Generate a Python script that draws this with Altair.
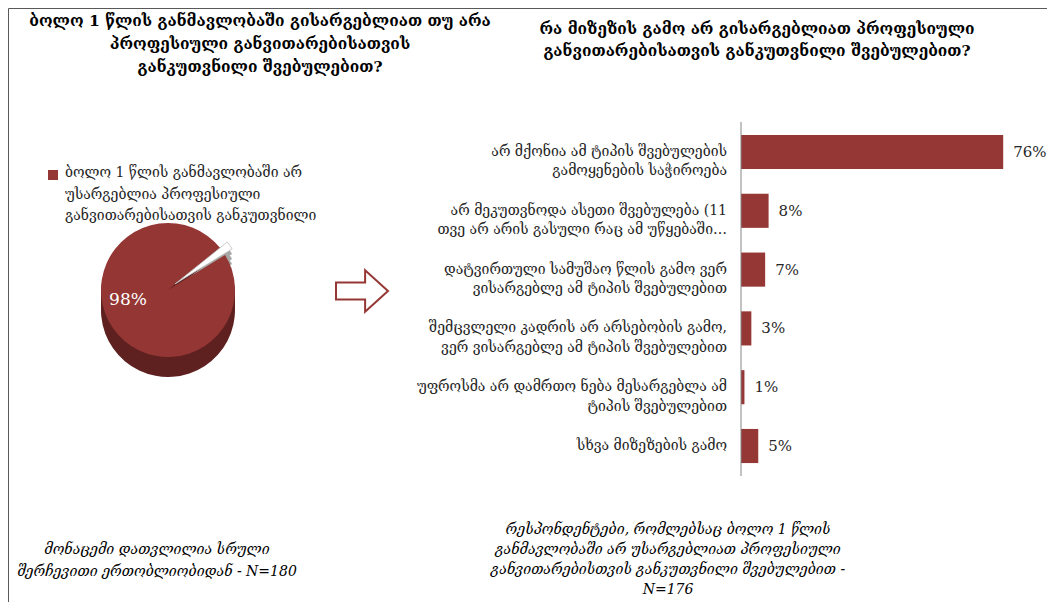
import math
import altair as alt
import pandas as pd

# ---------------- data ----------------
left_title = "ბოლო 1 წლის განმავლობაში გისარგებლიათ თუ არა\nპროფესიული განვითარებისათვის\nგანკუთვნილი შვებულებით?"
right_title = "რა მიზეზის გამო არ გისარგებლიათ პროფესიული\nგანვითარებისათვის განკუთვნილი შვებულებით?"

pie_labels = [
    "ბოლო 1 წლის განმავლობაში არ\nუსარგებლია პროფესიული\nგანვითარებისათვის განკუთვნილი",
    "ბოლო 1 წლის განმავლობაში უსარგებლია",
]
pie_share = [0.98, 0.02]

categories = [
    "არ მქონია ამ ტიპის  შვებულების\nგამოყენების საჭიროება",
    "არ მეკუთვნოდა ასეთი შვებულება (11\nთვე არ არის გასული რაც ამ უწყებაში…",
    "დატვირთული სამუშაო წლის გამო ვერ\nვისარგებლე ამ ტიპის შვებულებით",
    "შემცვლელი კადრის არ არსებობის გამო,\nვერ ვისარგებლე ამ ტიპის შვებულებით",
    "უფროსმა არ დამრთო ნება მესარგებლა ამ\nტიპის შვებულებით",
    "სხვა მიზეზების გამო",
]
reason_share = [0.76, 0.08, 0.07, 0.03, 0.01, 0.05]

left_note = "მონაცემი დათვლილია სრული\nშერჩევითი ერთობლიობიდან -  N=180"
right_note = ("რესპონდენტები, რომლებსაც ბოლო 1 წლის\nგანმავლობაში არ უსარგებლიათ პროფესიული\n"
              "განვითარებისთვის განკუთვნილი  შვებულებით -\nN=176")

# ---------------- styling ----------------
W, H = 1039, 594
FONT = "DejaVu Serif"
RED = "#953735"
TXT = "#262626"

pie_df = pd.DataFrame({"label": pie_labels, "share": pie_share, "idx": [0, 1]})
bar_df = pd.DataFrame({"cat": categories, "share": reason_share})
one = pd.DataFrame({"k": [0]})

# ---------------- pie ----------------
CX, CY, R = 160, 282, 67
rot = 1.02
theta_scale = alt.Scale(domain=[0, 1], range=[rot, rot + 2 * math.pi])

pie_base = (
    alt.Chart(pie_df)
    .transform_window(end="sum(share)", sort=[alt.SortField("idx")], frame=[None, 0])
    .transform_calculate(start="datum.end - datum.share")
)

def pie_layer(row, dy, color, stroke=None, xo=0, yo=0):
    kw = dict(outerRadius=R, xOffset=xo, yOffset=yo, color=color)
    if stroke:
        kw.update(stroke=stroke, strokeWidth=0.8)
    return (
        pie_base.transform_filter(f"datum.idx == {row}")
        .mark_arc(**kw)
        .encode(
            theta=alt.Theta("start:Q", scale=theta_scale, stack=None),
            theta2="end:Q",
            x=alt.value(CX),
            y=alt.value(CY + dy),
        )
    )

pie_layers = []
for d in [20, 15, 10, 5]:
    pie_layers.append(pie_layer(0, d, "#5e2120"))
    pie_layers.append(pie_layer(1, d, "#a6a6a6", xo=7, yo=-6))
pie_layers.append(pie_layer(0, 0, "#943634"))
pie_layers.append(pie_layer(1, 0, "#ffffff", stroke="#bfbfbf", xo=7, yo=-6))

pie_text = (
    pie_base.transform_filter("datum.idx == 0")
    .mark_text(font=FONT, fontSize=17, color="white")
    .encode(text=alt.Text("share:Q", format=".0%"), x=alt.value(120), y=alt.value(292))
)

legend_sq = (
    alt.Chart(pie_df).transform_filter("datum.idx == 0")
    .mark_point(shape="square", filled=True, size=100, color=RED, opacity=1)
    .encode(x=alt.value(45), y=alt.value(167))
)
legend_txt = (
    alt.Chart(pie_df).transform_filter("datum.idx == 0")
    .mark_text(font=FONT, fontSize=14, color=TXT, align="left", baseline="top",
               lineBreak="\n", lineHeight=21.5)
    .encode(text="label:N", x=alt.value(57), y=alt.value(158))
)

# ---------------- arrow ----------------
arrow_path = "M -1 -0.33 L 0.12 -0.33 L 0.12 -0.8 L 1 0 L 0.12 0.8 L 0.12 0.33 L -1 0.33 Z"
arrow = (
    alt.Chart(one)
    .mark_point(shape=arrow_path, filled=True, fill="white", stroke=RED, strokeWidth=2,
                size=2704, opacity=1)
    .encode(x=alt.value(354), y=alt.value(283))
)

# ---------------- bars ----------------
xscale = alt.Scale(domain=[0, 0.8], range=[733, 1009])
yscale = alt.Scale(range=[114, 468], paddingInner=0.42, paddingOuter=0.22)
Y = alt.Y("cat:N", sort=categories, scale=yscale, axis=None)

bars = (
    alt.Chart(bar_df).mark_bar(color=RED)
    .encode(x=alt.X("share:Q", scale=xscale, axis=None, stack=None), y=Y)
)
val_txt = (
    alt.Chart(bar_df).mark_text(font=FONT, fontSize=15, color=TXT, align="left", dx=10)
    .encode(x=alt.X("share:Q", scale=xscale, axis=None, stack=None), y=Y,
            text=alt.Text("share:Q", format=".0%"))
)
cat_txt = (
    alt.Chart(bar_df).mark_text(font=FONT, fontSize=14, color=TXT, align="right",
                                lineBreak="\n", lineHeight=19.5)
    .encode(x=alt.value(719), y=Y, text="cat:N")
)
axis_rule = (
    alt.Chart(one).mark_rule(color="#868686", strokeWidth=1)
    .encode(x=alt.value(733), y=alt.value(114), y2=alt.value(468))
)

# ---------------- titles & notes ----------------
def text_block(s, x, y, size, lh, weight="normal", style="normal"):
    return (
        alt.Chart(pd.DataFrame({"t": [s]}))
        .mark_text(font=FONT, fontSize=size, fontWeight=weight, fontStyle=style, color="black",
                   align="center", baseline="top", lineBreak="\n", lineHeight=lh)
        .encode(text="t:N", x=alt.value(x), y=alt.value(y))
    )

t1 = text_block(left_title, 252, 6, 15.5, 23, weight="bold")
t2 = text_block(right_title, 749, 14, 15.5, 22, weight="bold")
n1 = text_block(left_note, 149, 535, 14, 22, style="italic")
n2 = text_block(right_note, 660, 515, 14, 20, style="italic")

chart = (
    alt.layer(*pie_layers, pie_text, legend_sq, legend_txt, arrow,
              bars, axis_rule, val_txt, cat_txt, t1, t2, n1, n2)
    .properties(width=W, height=H, autosize=alt.AutoSizeParams(type="none"), padding=0,
                background="white")
    .configure_view(stroke="#595959", strokeWidth=1)
)

chart.save("out.html", embed_options={"renderer": "svg", "actions": False})
